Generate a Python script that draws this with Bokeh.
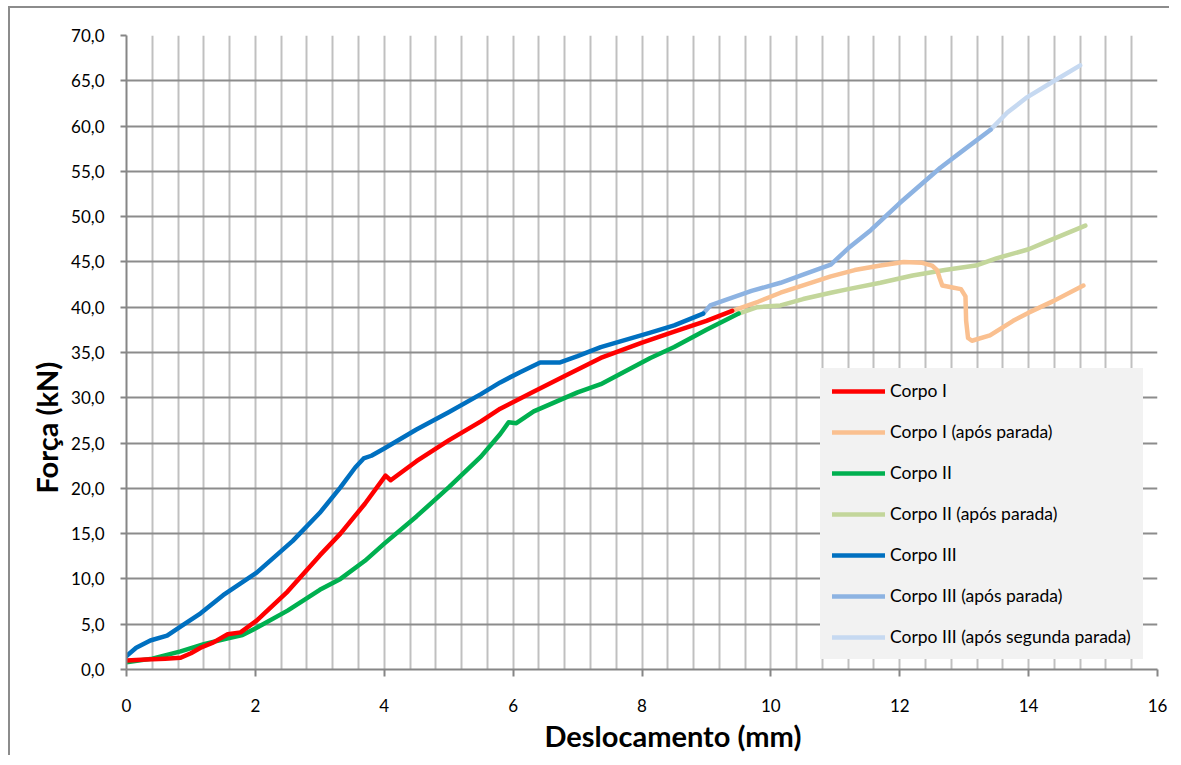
from bokeh.plotting import figure
from bokeh.models import Range1d, FixedTicker, Title, Legend, LegendItem
from bokeh.embed import file_html
from bokeh.resources import INLINE

# ---------------- data ----------------
corpo1_x = [0, 0.3, 0.6, 0.84, 1.0, 1.15, 1.35, 1.57, 1.77, 2.02, 2.5, 3.0, 3.32, 3.7, 4.02, 4.1,
            4.5, 5.0, 5.5, 5.8, 6.3, 6.8, 7.36, 8.0, 8.5, 9.0, 9.4]
corpo1_y = [1.0, 1.1, 1.2, 1.3, 1.8, 2.4, 3.0, 3.9, 4.1, 5.4, 8.6, 12.6, 15.0, 18.3, 21.4, 20.9,
            23.0, 25.3, 27.4, 28.8, 30.6, 32.4, 34.4, 36.1, 37.3, 38.5, 39.6]

corpo1_apos_x = [9.4, 9.8, 10.15, 10.5, 10.93, 11.3, 11.7, 12.06, 12.35, 12.5, 12.58, 12.62, 12.66,
                 12.8, 12.95, 13.02, 13.03, 13.06, 13.12, 13.4, 13.76, 14.0, 14.39, 14.85]
corpo1_apos_y = [39.6, 40.6, 41.6, 42.4, 43.4, 44.1, 44.6, 45.0, 44.9, 44.6, 44.1, 43.2, 42.4,
                 42.2, 42.0, 41.2, 38.5, 36.6, 36.3, 36.9, 38.5, 39.4, 40.7, 42.4]

corpo2_x = [0, 0.4, 0.84, 1.2, 1.61, 1.8, 2.02, 2.5, 3.0, 3.32, 3.7, 4.0, 4.5, 5.0, 5.5, 5.8, 5.93,
            6.05, 6.32, 7.0, 7.36, 8.13, 8.5, 9.0, 9.5]
corpo2_y = [0.8, 1.2, 2.0, 2.8, 3.5, 3.8, 4.6, 6.5, 8.8, 10.0, 12.0, 13.9, 16.9, 20.1, 23.5, 26.0, 27.3,
            27.2, 28.5, 30.6, 31.5, 34.4, 35.6, 37.5, 39.3]

corpo2_apos_x = [9.5, 9.79, 10.15, 10.5, 10.93, 11.2, 11.7, 12.2, 12.7, 13.18, 13.5, 14.0, 14.3, 14.88]
corpo2_apos_y = [39.3, 40.0, 40.2, 40.9, 41.6, 42.0, 42.7, 43.5, 44.1, 44.6, 45.4, 46.4, 47.3, 49.0]

corpo3_x = [0, 0.15, 0.37, 0.63, 0.85, 1.15, 1.5, 2.02, 2.58, 3.0, 3.32, 3.55, 3.68, 3.8, 4.0, 4.5,
            5.0, 5.5, 5.8, 6.1, 6.42, 6.73, 7.0, 7.36, 8.13, 8.5, 8.95]
corpo3_y = [1.5, 2.4, 3.2, 3.75, 4.8, 6.2, 8.2, 10.7, 14.2, 17.3, 20.1, 22.3, 23.3, 23.6, 24.4, 26.5,
            28.4, 30.4, 31.7, 32.8, 33.9, 33.9, 34.6, 35.6, 37.2, 38.0, 39.3]

corpo3_apos_x = [8.95, 9.06, 9.3, 9.7, 10.15, 10.5, 10.93, 11.2, 11.55, 12.0, 12.63, 13.0, 13.41]
corpo3_apos_y = [39.3, 40.2, 40.8, 41.8, 42.7, 43.6, 44.7, 46.5, 48.5, 51.5, 55.4, 57.4, 59.6]

corpo3_seg_x = [13.41, 13.67, 13.98, 14.4, 14.8]
corpo3_seg_y = [59.6, 61.5, 63.2, 65.0, 66.7]

series_names = ["Corpo I", "Corpo I (após parada)", "Corpo II", "Corpo II (após parada)",
                "Corpo III", "Corpo III (após parada)", "Corpo III (após segunda parada)"]

x_ticks = [0, 2, 4, 6, 8, 10, 12, 14, 16]
y_ticks = [0, 5, 10, 15, 20, 25, 30, 35, 40, 45, 50, 55, 60, 65, 70]
y_tick_labels = ["0,0", "5,0", "10,0", "15,0", "20,0", "25,0", "30,0", "35,0", "40,0", "45,0",
                 "50,0", "55,0", "60,0", "65,0", "70,0"]
x_title = "Deslocamento (mm)"
y_title = "Força (kN)"

# ---------------- figure ----------------
FONT = "Lato"
p = figure(frame_width=1031, frame_height=634,
           min_border_left=116, min_border_right=12, min_border_top=27, min_border_bottom=86,
           x_range=Range1d(0, 16), y_range=Range1d(0, 70),
           output_backend="svg", toolbar_location=None)
p.margin = (6, 0, 0, 8)
p.styles = {"border-left": "2px solid #8c8c8c", "border-top": "2px solid #8c8c8c"}
p.outline_line_color = None
p.background_fill_color = "white"
p.border_fill_color = "white"

# grids
p.xgrid.ticker = FixedTicker(ticks=[i * 0.4 for i in range(41)])
p.xgrid.grid_line_color = "#c0c0c0"
p.xgrid.grid_line_width = 2
p.ygrid.ticker = FixedTicker(ticks=y_ticks)
p.ygrid.grid_line_color = "#8c8c8c"
p.ygrid.grid_line_width = 2

# axes
p.xaxis.ticker = FixedTicker(ticks=x_ticks)
p.yaxis.ticker = FixedTicker(ticks=y_ticks)
p.yaxis.major_label_overrides = {t: l for t, l in zip(y_ticks, y_tick_labels)}
for ax in (p.xaxis[0], p.yaxis[0]):
    ax.axis_line_color = "#868686"
    ax.axis_line_width = 2
    ax.major_tick_line_color = "#868686"
    ax.major_tick_line_width = 2
    ax.major_tick_in = 0
    ax.minor_tick_line_color = None
    ax.major_label_text_font = FONT
    ax.major_label_text_font_size = "17px"
    ax.major_label_text_color = "black"
p.xaxis.major_tick_out = 7
p.xaxis.major_label_standoff = 22
p.yaxis.major_tick_out = 6
p.yaxis.major_label_standoff = 16

# series
colors = ["#ff0000", "#fac090", "#00b050", "#c3d69b", "#0070c0", "#8db3e2", "#c6d9f1"]
xs = [corpo1_x, corpo1_apos_x, corpo2_x, corpo2_apos_x, corpo3_x, corpo3_apos_x, corpo3_seg_x]
ys = [corpo1_y, corpo1_apos_y, corpo2_y, corpo2_apos_y, corpo3_y, corpo3_apos_y, corpo3_seg_y]
order = [3, 1, 2, 0, 6, 5, 4]  # draw order (blue on top)
renderers = {}
for i in order:
    renderers[i] = p.line(xs[i], ys[i], line_color=colors[i], line_width=4.5,
                          line_cap="round", line_join="round")

legend = Legend(items=[LegendItem(label=series_names[i], renderers=[renderers[i]]) for i in range(7)],
                location=(694, 10))
legend.background_fill_color = "#f2f2f2"
legend.background_fill_alpha = 1
legend.border_line_color = "#f2f2f2"
legend.label_text_font = FONT
legend.label_text_font_size = "17.5px"
legend.label_text_color = "black"
legend.glyph_width = 53
legend.glyph_height = 20
legend.label_height = 20
legend.spacing = 20
legend.padding = 11
legend.margin = 0
legend.label_standoff = 5
p.add_layout(legend, "center")

# axis titles (placed off-centre, as in the original)
p.add_layout(Title(text=x_title, align="left", offset=418, standoff=2,
                   text_font=FONT, text_font_style="bold", text_font_size="29px",
                   text_color="black"), "below")
p.add_layout(Title(text=y_title, align="left", offset=176, standoff=10,
                   text_font=FONT, text_font_style="bold", text_font_size="29px",
                   text_color="black"), "left")

open("out.html", "w").write(file_html(p, INLINE))
